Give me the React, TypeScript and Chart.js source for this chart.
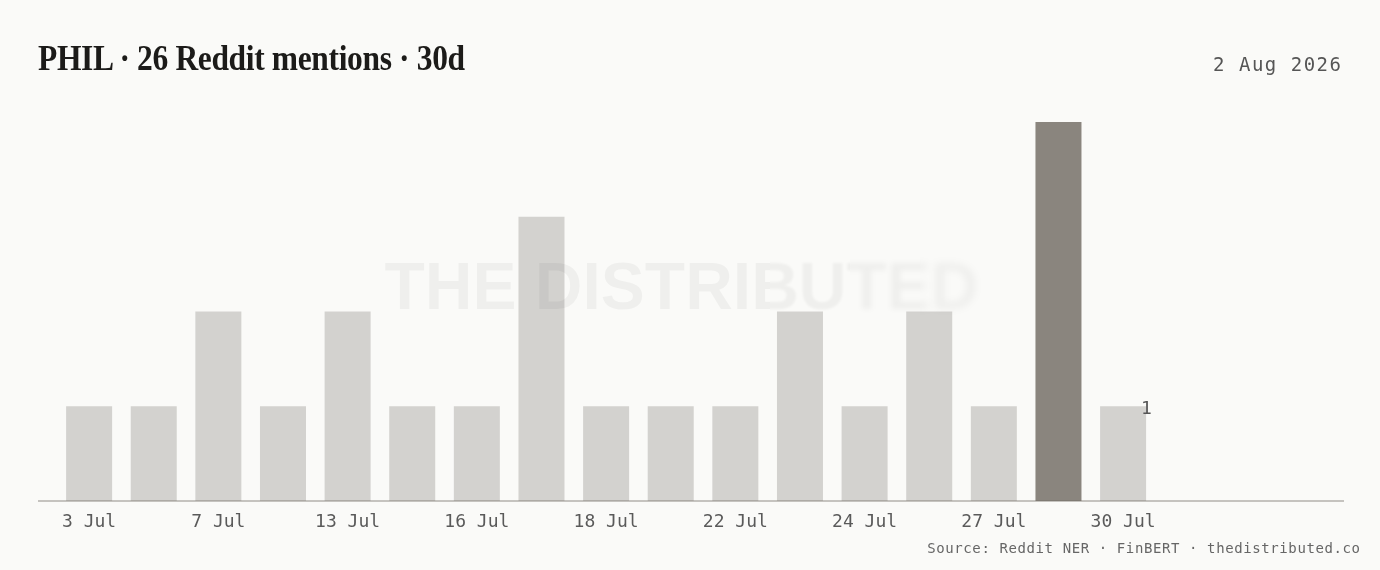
import React, { useEffect, useRef } from "react";
import { Chart, registerables } from "chart.js";

Chart.register(...registerables);

// ---- data ----
const categories = ["3 Jul", "", "7 Jul", "", "13 Jul", "", "16 Jul", "", "18 Jul", "", "22 Jul", "", "24 Jul", "", "27 Jul", "", "30 Jul"];
const mentions = [1, 1, 2, 1, 2, 1, 1, 3, 1, 1, 1, 2, 1, 2, 1, 4, 1];
const yMin = 0;
const yMax = 4;

const TITLE = "PHIL · 26 Reddit mentions · 30d";
const DATE = "2 Aug 2026";
const FOOTER = "Source: Reddit NER · FinBERT · thedistributed.co";
const WATERMARK = "THE DISTRIBUTED";

// ---- style ----
const BG = "#fafaf8";
const BAR = "#d3d2cf";
const HI = "#8a857e";
const MONO = "'DejaVu Sans Mono', monospace";
const W = 1380;
const H = 570;
const AXIS_LEFT = 38;
const AXIS_RIGHT = 1344;

const overlay = {
  id: "overlay",
  afterDatasetsDraw(chart: any) {
    const { ctx, scales } = chart;
    const y0 = scales.y.getPixelForValue(0);

    // watermark
    ctx.save();
    ctx.font = "bold 66px 'Liberation Sans', Arial, sans-serif";
    ctx.fillStyle = "rgba(0,0,0,0.045)";
    ctx.textAlign = "center";
    ctx.textBaseline = "alphabetic";
    const cx = chart.width / 2 - 8.5;
    const by = 309;
    const parts = [
      { x0: 0, x1: 770, blur: 0 },
      { x0: 770, x1: 850, blur: 1.2 },
      { x0: 850, x1: 920, blur: 2.5 },
      { x0: 920, x1: W, blur: 3.5 },
    ];
    for (const p of parts) {
      ctx.save();
      ctx.beginPath();
      ctx.rect(p.x0, 200, p.x1 - p.x0, 160);
      ctx.clip();
      if (p.blur) ctx.filter = `blur(${p.blur}px)`;
      ctx.fillText(WATERMARK, cx, by);
      ctx.restore();
    }
    ctx.restore();

    // axis baseline
    ctx.save();
    ctx.strokeStyle = "rgba(110,105,98,0.38)";
    ctx.lineWidth = 2;
    ctx.beginPath();
    ctx.moveTo(AXIS_LEFT, y0);
    ctx.lineTo(AXIS_RIGHT, y0);
    ctx.stroke();
    ctx.restore();

    // latest value label
    const meta = chart.getDatasetMeta(0);
    const last = meta.data[meta.data.length - 1];
    if (last) {
      ctx.save();
      ctx.font = `18px ${MONO}`;
      ctx.fillStyle = "#555555";
      ctx.textAlign = "left";
      ctx.textBaseline = "middle";
      ctx.fillText(String(mentions[mentions.length - 1]), last.x + last.width / 2 - 5, last.y + 3);
      ctx.restore();
    }
  },
};

export default function App() {
  const ref = useRef<HTMLCanvasElement>(null);

  useEffect(() => {
    document.body.style.margin = "0";
    document.body.style.background = BG;
    const maxV = Math.max(...mentions);
    const colors = mentions.map((v) => (v === maxV ? HI : BAR));
    const chart = new Chart(ref.current as HTMLCanvasElement, {
      type: "bar",
      data: {
        labels: categories,
        datasets: [
          {
            data: mentions,
            backgroundColor: colors,
            borderWidth: 0,
            barPercentage: 0.712,
            categoryPercentage: 1,
          },
        ],
      },
      options: {
        animation: false,
        responsive: false,
        maintainAspectRatio: false,
        layout: { padding: { left: 56.8, right: 224.6, top: 122, bottom: 0 } },
        plugins: {
          legend: { display: false },
          tooltip: { enabled: false },
          title: { display: false },
        },
        scales: {
          x: {
            grid: { display: false, drawTicks: false },
            border: { display: false },
            ticks: {
              font: { family: MONO, size: 18 },
              color: "#5a5a5a",
              padding: 11,
              maxRotation: 0,
              autoSkip: false,
            },
            afterFit: (s: any) => {
              s.height = 69;
            },
          },
          y: { display: false, min: yMin, max: yMax },
        },
      },
      plugins: [overlay],
    } as any);
    return () => chart.destroy();
  }, []);

  return (
    <div style={{ position: "relative", width: W, height: H, background: BG, overflow: "hidden" }}>
      <canvas ref={ref} width={W} height={H} style={{ position: "absolute", left: 0, top: 0, width: W, height: H }} />
      <div
        style={{
          position: "absolute",
          left: 38,
          top: 40,
          fontFamily: "'Liberation Serif', 'DejaVu Serif', serif",
          fontWeight: 700,
          fontSize: 36,
          lineHeight: "36px",
          letterSpacing: -0.4,
          transform: "scaleX(0.875)",
          transformOrigin: "left center",
          whiteSpace: "nowrap",
          color: "#1c1b19",
        }}
      >
        {TITLE}
      </div>
      <div
        style={{
          position: "absolute",
          right: 37.5,
          top: 54.5,
          fontFamily: MONO,
          fontSize: 19,
          lineHeight: "19px",
          letterSpacing: 1.5,
          whiteSpace: "nowrap",
          color: "#555555",
        }}
      >
        {DATE}
      </div>
      <div
        style={{
          position: "absolute",
          right: 19.4,
          top: 540.5,
          fontFamily: MONO,
          fontSize: 14,
          lineHeight: "14px",
          letterSpacing: 0.6,
          whiteSpace: "nowrap",
          color: "#666666",
        }}
      >
        {FOOTER}
      </div>
    </div>
  );
}
